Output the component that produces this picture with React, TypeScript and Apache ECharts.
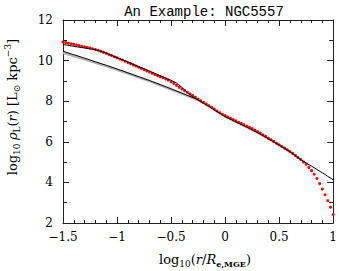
import React, { useEffect, useRef } from "react";
import * as echarts from "echarts";

const TITLE = "An Example: NGC5557";
const X_MIN = -1.5;
const X_MAX = 1;
const Y_MIN = 2;
const Y_MAX = 12;

// observed luminosity density (red dots), sampled every 0.025 dex from -1.5
const obsStartX = -1.5;
const obsStepX = 0.025;
const obsRho = [
  10.92, 10.89, 10.86, 10.83, 10.8, 10.77, 10.74, 10.71, 10.68, 10.65, 10.62,
  10.58, 10.55, 10.51, 10.46, 10.41, 10.36, 10.3, 10.25, 10.19, 10.14,
  10.08, 10.03, 9.97, 9.91, 9.85, 9.79, 9.73, 9.67, 9.61, 9.55,
  9.49, 9.44, 9.38, 9.32, 9.26, 9.21, 9.16, 9.1, 9.04, 8.96,
  8.87, 8.78, 8.69, 8.6, 8.52, 8.44, 8.36, 8.28, 8.19, 8.1,
  8.02, 7.94, 7.86, 7.78, 7.7, 7.61, 7.52, 7.43, 7.36, 7.29,
  7.22, 7.16, 7.09, 7.03, 6.96, 6.9, 6.84, 6.78, 6.72, 6.65,
  6.58, 6.5, 6.43, 6.35, 6.27, 6.18, 6.1, 6.02, 5.93, 5.85,
  5.77, 5.69, 5.61, 5.52, 5.43, 5.33, 5.23, 5.13, 5.01, 4.89,
  4.74, 4.58, 4.4, 4.19, 3.94, 3.67, 3.39, 3.1, 2.78, 2.42,
];

// upper black model curve
const modelAX = [-1.5, -1.4, -1.3, -1.2, -1.1, -1.0, -0.9, -0.8, -0.7, -0.6, -0.55, -0.5, -0.45, -0.4, -0.35, -0.3, -0.25, -0.2, -0.1, 0, 0.1, 0.2, 0.3, 0.4, 0.5, 0.6, 0.7, 0.8, 0.9, 1.0];
const modelAY = [10.8, 10.7, 10.62, 10.53, 10.37, 10.15, 9.93, 9.71, 9.49, 9.25, 9.14, 9.03, 8.9, 8.68, 8.44, 8.22, 8.07, 7.9, 7.57, 7.24, 6.98, 6.72, 6.45, 6.15, 5.84, 5.51, 5.12, 4.8, 4.47, 4.13];

// lower black model curve
const modelBX = [-1.5, -1.4, -1.3, -1.2, -1.1, -1.0, -0.9, -0.8, -0.7, -0.6, -0.5, -0.4, -0.3, -0.25, -0.2];
const modelBY = [10.46, 10.29, 10.12, 9.94, 9.77, 9.59, 9.4, 9.21, 9.02, 8.82, 8.61, 8.4, 8.18, 8.07, 7.9];

// gray model curve
const modelCX = [-1.5, -1.4, -1.3, -1.2, -1.1, -1.0, -0.9, -0.8, -0.7, -0.6, -0.5, -0.4, -0.3, -0.2, -0.1, 0, 0.1, 0.2, 0.3, 0.4, 0.5, 0.6, 0.7];
const modelCY = [10.38, 10.22, 10.06, 9.89, 9.72, 9.54, 9.36, 9.17, 8.98, 8.78, 8.58, 8.37, 8.16, 7.92, 7.6, 7.25, 6.98, 6.72, 6.45, 6.15, 5.84, 5.51, 5.12];

const SERIF = "DejaVu Serif";

const fmt = (v: number) => String(v).replace("-", "\u2212");

export default function App() {
  const ref = useRef<HTMLDivElement>(null);
  useEffect(() => {
    if (!ref.current) return;
    const chart = echarts.init(ref.current, undefined, { renderer: "svg" });
    const obs = obsRho.map((y, i) => [obsStartX + obsStepX * i, y]);
    const pair = (xs: number[], ys: number[]) => xs.map((x, i) => [x, ys[i]]);

    const axisCommon = {
      type: "value" as const,
      axisLine: { show: true, onZero: false, lineStyle: { color: "#222", width: 1 } },
      axisTick: { show: true, inside: true, length: 6, lineStyle: { color: "#222", width: 1 } },
      minorTick: { show: true, length: 3, lineStyle: { color: "#222", width: 1 } },
      splitLine: { show: false },
      minorSplitLine: { show: false },
    };
    const labelStyle = {
      fontFamily: SERIF,
      fontSize: 12,
      color: "#000",
      showMinLabel: true,
      showMaxLabel: true,
      formatter: (v: number) => fmt(v),
    };

    const rich = {
      n: { fontFamily: SERIF, fontSize: 13, lineHeight: 18, verticalAlign: "middle", fill: "#000", color: "#000" },
      i: { fontFamily: SERIF, fontSize: 13, fontStyle: "italic", lineHeight: 18, verticalAlign: "middle", fill: "#000", color: "#000" },
      sb: { fontFamily: SERIF, fontSize: 9, lineHeight: 18, verticalAlign: "bottom", fill: "#000", color: "#000" },
      sbb: { fontFamily: SERIF, fontSize: 8, fontWeight: "bold", lineHeight: 18, verticalAlign: "bottom", fill: "#000", color: "#000" },
      sp: { fontFamily: SERIF, fontSize: 9, lineHeight: 18, verticalAlign: "top", fill: "#000", color: "#000" },
    };

    chart.setOption({
      animation: false,
      title: {
        text: TITLE,
        left: 199,
        textAlign: "center",
        top: 0,
        textStyle: { fontFamily: "Liberation Mono", fontSize: 14, fontWeight: "normal", color: "#000" },
      },
      grid: { left: 63, right: 5, top: 20, bottom: 48, containLabel: false },
      xAxis: [
        {
          ...axisCommon,
          position: "bottom",
          min: X_MIN,
          max: X_MAX,
          interval: 0.5,
          minorTick: { ...axisCommon.minorTick, splitNumber: 5 },
          axisLabel: { ...labelStyle, margin: 8 },
        },
        {
          ...axisCommon,
          position: "top",
          min: X_MIN,
          max: X_MAX,
          interval: 0.5,
          minorTick: { ...axisCommon.minorTick, splitNumber: 5 },
          axisLabel: { show: false },
        },
      ],
      yAxis: [
        {
          ...axisCommon,
          position: "left",
          min: Y_MIN,
          max: Y_MAX,
          interval: 2,
          minorTick: { ...axisCommon.minorTick, splitNumber: 2, length: 4 },
          axisLabel: { ...labelStyle, margin: 10 },
        },
        {
          ...axisCommon,
          position: "right",
          min: Y_MIN,
          max: Y_MAX,
          interval: 2,
          minorTick: { ...axisCommon.minorTick, splitNumber: 2, length: 4 },
          axisLabel: { show: false },
        },
      ],
      graphic: [
        {
          type: "text",
          x: 205,
          y: 259,
          silent: true,
          style: {
            text: "{n|log}{sb|10}{n|(}{i|r}{n|/}{i|R}{sbb|e,MGE}{n|)}",
            rich,
            align: "center",
            verticalAlign: "middle",
            textAlign: "center",
            textVerticalAlign: "middle",
            fill: "#000",
          },
        },
        {
          type: "text",
          x: 12,
          y: 107,
          rotation: Math.PI / 2,
          silent: true,
          style: {
            text: "{n|log}{sb|10} {i|\u03c1}{sb|L}{n|(}{i|r}{n|) [L}{sb|\u2299}{n| kpc}{sp|\u22123}{n|]}",
            rich,
            align: "center",
            verticalAlign: "middle",
            textAlign: "center",
            textVerticalAlign: "middle",
            fill: "#000",
          },
        },
      ],
      series: [
        {
          type: "line",
          name: "model C",
          data: pair(modelCX, modelCY),
          showSymbol: false,
          smooth: false,
          lineStyle: { color: "#b4b4b4", width: 2.2 },
          silent: true,
          z: 1,
        },
        {
          type: "line",
          name: "model B",
          data: pair(modelBX, modelBY),
          showSymbol: false,
          lineStyle: { color: "#000", width: 1 },
          silent: true,
          z: 2,
        },
        {
          type: "scatter",
          name: "data",
          data: obs,
          symbol: "circle",
          symbolSize: 3,
          itemStyle: { color: "#ff0000", opacity: 1 },
          silent: true,
          z: 3,
        },
        {
          type: "line",
          name: "model A",
          data: pair(modelAX, modelAY),
          showSymbol: false,
          lineStyle: { color: "#000", width: 1 },
          silent: true,
          z: 4,
        },
      ],
    });
    return () => chart.dispose();
  }, []);
  return (
    <div
      ref={ref}
      style={{ position: "fixed", left: 0, top: 0, width: 340, height: 271, background: "#fff" }}
    />
  );
}
